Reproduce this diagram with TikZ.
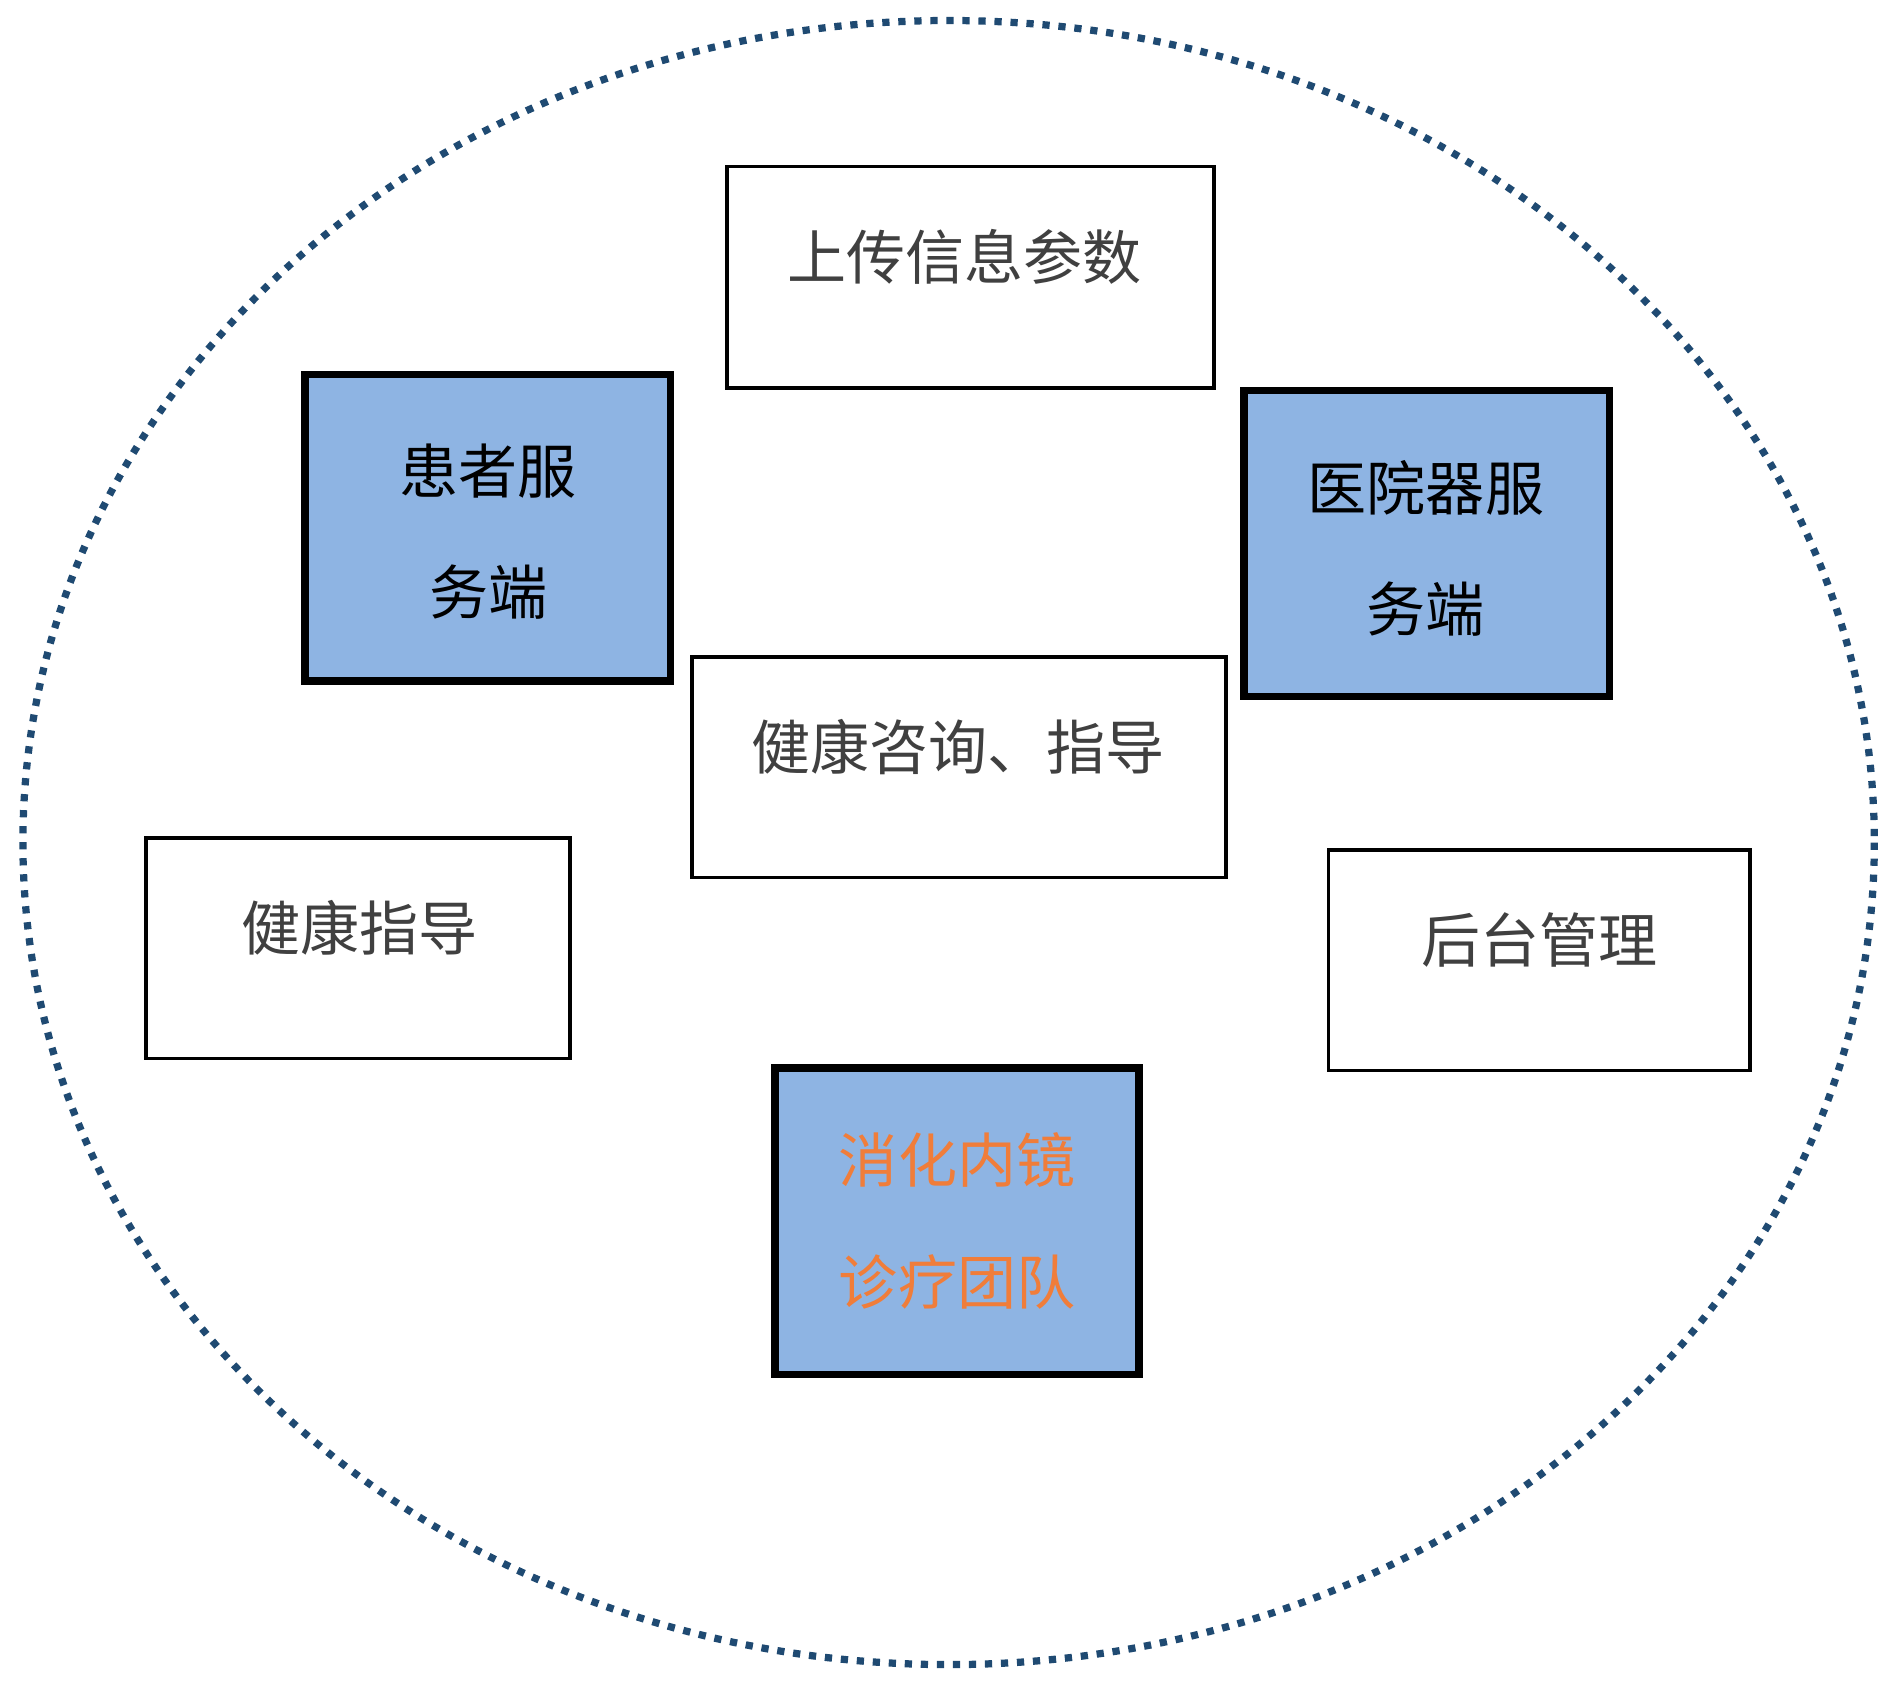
\documentclass[tikz,border=0pt]{standalone}
\usepackage{fontspec}
\setmainfont{Noto Sans CJK SC}
\usetikzlibrary{fit}
\definecolor{ringc}{HTML}{1F4A72}
\definecolor{bluef}{HTML}{8EB4E3}
\definecolor{orangec}{HTML}{F07D3A}
\definecolor{greyt}{HTML}{404040}
\tikzset{
  thinbox/.style={draw=black, line width=1.5pt, fill=white, inner sep=0pt},
  thickbox/.style={draw=black, line width=3pt, fill=bluef, inner sep=0pt},
  txt/.style={font=\fontsize{24.5}{50.5}\selectfont, inner sep=0pt, align=center},
}
\begin{document}
\begin{tikzpicture}[x=0.5pt, y=-0.5pt]
\useasboundingbox (0,0) rectangle (1568,1397);
\draw[ringc, line width=3pt, dash pattern=on 3pt off 3.65pt] (787,699) ellipse [x radius=768, y radius=682];
\node[thinbox, fit={(603,138) (1007,322)}] (up) {};
\node[txt, text=greyt] (upt) at (800,213) {上传信息参数};
\node[thickbox, fit={(253,311) (556,565)}] (pat) {};
\node[txt] (patt) at (405,441) {患者服\\务端};
\node[thickbox, fit={(1032,324) (1335,578)}] (hosp) {};
\node[txt] (hospt) at (1183,455) {医院器服\\务端};
\node[thinbox, fit={(574,545) (1017,728)}] (cons) {};
\node[txt, text=greyt] (const) at (795,620) {健康咨询、指导};
\node[thinbox, fit={(121,695) (473,878)}] (guide) {};
\node[txt, text=greyt] (guidet) at (298,770) {健康指导};
\node[thinbox, fit={(1102,705) (1452,888)}] (back) {};
\node[txt, text=greyt] (backt) at (1277,780) {后台管理};
\node[thickbox, fit={(643,886) (945,1140)}] (endo) {};
\node[txt, text=orangec] (endot) at (794,1013) {消化内镜\\诊疗团队};
\end{tikzpicture}
\end{document}
